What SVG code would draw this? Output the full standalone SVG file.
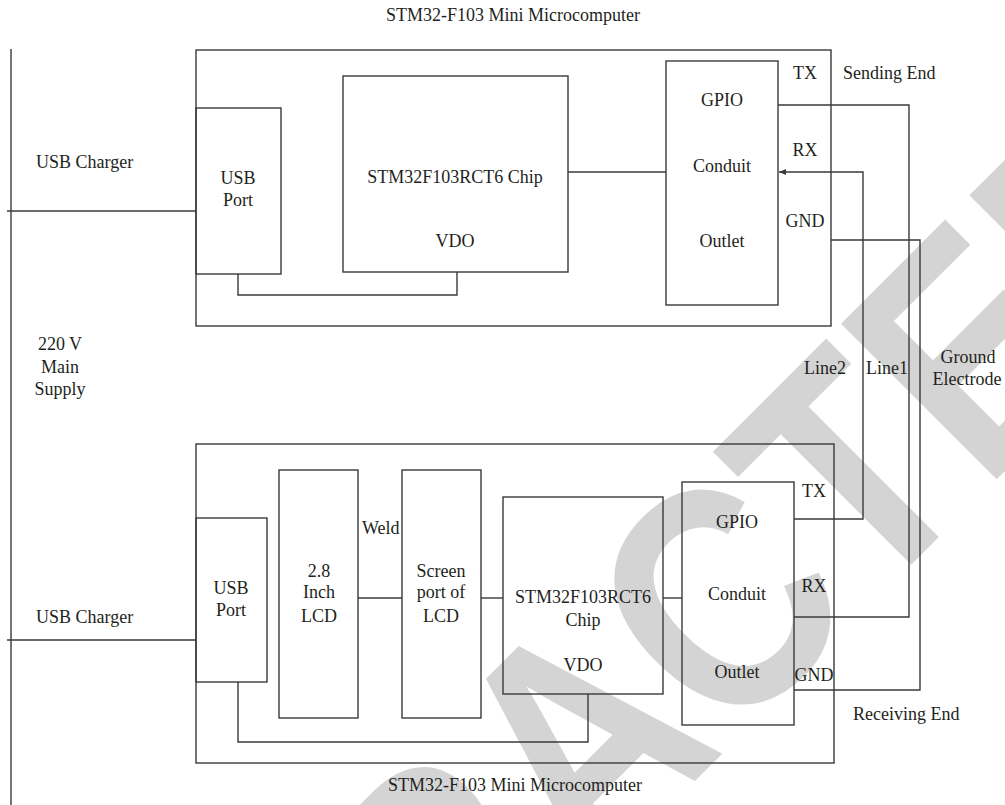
<svg xmlns="http://www.w3.org/2000/svg" width="1005" height="805" viewBox="0 0 1005 805">
<defs>
<style>
.ln{fill:none;stroke:#3a3a3a;stroke-width:1.4}
.t{font-family:"Liberation Serif","Times New Roman",serif;font-size:18px;fill:#231f20}
.c{text-anchor:middle}
.wm{font-family:"Liberation Sans",Arial,sans-serif;font-weight:bold;font-size:320px;fill:#d4d4d4;text-anchor:middle}
</style>
<marker id="arr" markerWidth="8" markerHeight="8" refX="7" refY="4" orient="auto" markerUnits="userSpaceOnUse">
<path d="M0,1 L7,4 L0,7 Z" fill="#3a3a3a"/>
</marker>
</defs>
<rect width="1005" height="805" fill="#ffffff"/>
<text class="wm" transform="translate(658,818) rotate(-45) scale(0.85,1)">RETRACTED</text>

<g id="supply">
<line class="ln" x1="11" y1="49" x2="11" y2="805"/>
<text class="t c" x="60" y="350">220 V</text>
<text class="t c" x="60" y="373">Main</text>
<text class="t c" x="60" y="395">Supply</text>
</g>

<g id="upper-mcu">
<rect class="ln" x="196" y="50" width="635" height="276"/>
<text class="t c" x="513" y="21">STM32-F103 Mini Microcomputer</text>
<text class="t" x="843" y="79">Sending End</text>
</g>
<g id="upper-usb">
<rect class="ln" x="196" y="108" width="85" height="166"/>
<text class="t c" x="238" y="184">USB</text>
<text class="t c" x="238" y="206">Port</text>
</g>
<g id="upper-chip">
<rect class="ln" x="343" y="76" width="225" height="196"/>
<text class="t c" x="455" y="183">STM32F103RCT6 Chip</text>
<text class="t c" x="455" y="247">VDO</text>
</g>
<g id="upper-gpio">
<rect class="ln" x="666" y="61" width="112" height="244"/>
<text class="t c" x="722" y="106">GPIO</text>
<text class="t c" x="722" y="172">Conduit</text>
<text class="t c" x="722" y="247">Outlet</text>
<text class="t c" x="805" y="79">TX</text>
<text class="t c" x="805" y="156">RX</text>
<text class="t c" x="805" y="227">GND</text>
</g>

<g id="lower-mcu">
<rect class="ln" x="196" y="444" width="638" height="319"/>
<text class="t c" x="515" y="791">STM32-F103 Mini Microcomputer</text>
<text class="t" x="853" y="720">Receiving End</text>
</g>
<g id="lower-usb">
<rect class="ln" x="196" y="518" width="71" height="164"/>
<text class="t c" x="231" y="594">USB</text>
<text class="t c" x="231" y="616">Port</text>
</g>
<g id="lcd">
<rect class="ln" x="279" y="470" width="79" height="248"/>
<text class="t c" x="319" y="577">2.8</text>
<text class="t c" x="319" y="598">Inch</text>
<text class="t c" x="319" y="622">LCD</text>
</g>
<g id="screen-port">
<rect class="ln" x="402" y="470" width="79" height="248"/>
<text class="t c" x="441" y="577">Screen</text>
<text class="t c" x="441" y="598">port of</text>
<text class="t c" x="441" y="622">LCD</text>
</g>
<g id="lower-chip">
<rect class="ln" x="503" y="497" width="160" height="197"/>
<text class="t c" x="583" y="603">STM32F103RCT6</text>
<text class="t c" x="583" y="626">Chip</text>
<text class="t c" x="583" y="671">VDO</text>
</g>
<g id="lower-gpio">
<rect class="ln" x="682" y="482" width="112" height="243"/>
<text class="t c" x="737" y="528">GPIO</text>
<text class="t c" x="737" y="600">Conduit</text>
<text class="t c" x="737" y="678">Outlet</text>
<text class="t c" x="814" y="497">TX</text>
<text class="t c" x="814" y="592">RX</text>
<text class="t c" x="814" y="681">GND</text>
</g>

<g id="connectors">
<line class="ln" x1="7" y1="211" x2="196" y2="211"/>
<text class="t" x="36" y="168">USB Charger</text>
<line class="ln" x1="7" y1="640" x2="196" y2="640"/>
<text class="t" x="36" y="623">USB Charger</text>
<polyline class="ln" points="238,274 238,295 457,295 457,272"/>
<line class="ln" x1="568" y1="172" x2="666" y2="172"/>
<line class="ln" x1="358" y1="598" x2="402" y2="598"/>
<text class="t" x="362" y="534">Weld</text>
<line class="ln" x1="481" y1="598" x2="503" y2="598"/>
<line class="ln" x1="663" y1="598" x2="682" y2="598"/>
<polyline class="ln" points="238,682 238,742 588,742 588,694"/>
<polyline class="ln" points="778,105 909,105 909,617 794,617"/>
<polyline class="ln" points="794,519 863,519 863,172 779,172" marker-end="url(#arr)"/>
<polyline class="ln" points="831,240 920,240 920,690 794,690"/>
<text class="t c" x="825" y="374">Line2</text>
<text class="t c" x="887" y="374">Line1</text>
<text class="t c" x="968" y="363">Ground</text>
<text class="t c" x="967" y="385">Electrode</text>
</g>
</svg>
